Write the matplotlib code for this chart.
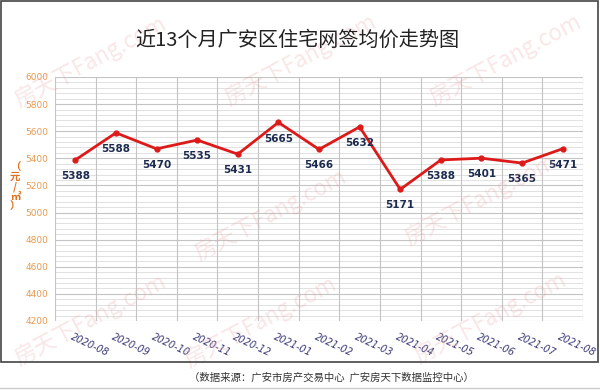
import matplotlib
matplotlib.use("Agg")
import matplotlib.pyplot as plt
from matplotlib.patches import Rectangle
from matplotlib.lines import Line2D

plt.rcParams['font.family'] = ['Noto Sans CJK SC', 'DejaVu Sans']

months = ["2020-08", "2020-09", "2020-10", "2020-11", "2020-12", "2021-01", "2021-02",
          "2021-03", "2021-04", "2021-05", "2021-06", "2021-07", "2021-08"]
prices = [5388, 5588, 5470, 5535, 5431, 5665, 5466, 5632, 5171, 5388, 5401, 5365, 5471]
yticks = [4200, 4400, 4600, 4800, 5000, 5200, 5400, 5600, 5800, 6000]
title = "近13个月广安区住宅网签均价走势图"
source = "（数据来源：广安市房产交易中心  广安房天下数据监控中心）"
ylabel = "（\n元\n/\n㎡\n）"
watermark = "房天下Fang.com"

W, H = 600, 390
fig = plt.figure(figsize=(W / 100, H / 100), dpi=100)
fig.patch.set_facecolor("white")

def fx(px):
    return px / W

def fy(py):
    return 1 - py / H

# faint watermarks
for (x, y) in [(90, 62), (300, 60), (505, 60), (270, 215), (480, 200),
               (90, 320), (260, 322), (490, 318)]:
    fig.text(fx(x), fy(y), watermark, fontsize=16, color="#e8a0a0", alpha=0.25,
             rotation=28, ha="center", va="center", zorder=0)

ax = fig.add_axes([fx(55), fy(321), fx(583) - fx(55), fy(77) - fy(321)])
ax.set_facecolor("none")
n = len(months)
xs = list(range(n))
ax.set_xlim(-0.5, n - 0.5)
ax.set_ylim(4200, 6000)

# grid
for v in range(4200, 6001, 40):
    major = (v - 4200) % 200 == 0
    ax.axhline(v, color="#c4c4c4" if major else "#dcdcdc", lw=0.8 if major else 0.6, zorder=1)
for i in range(n + 1):
    ax.axvline(i - 0.5, color="#c4c4c4", lw=0.8, zorder=1)

ax.plot(xs, prices, color="#dd1a1a", lw=2, marker="o", ms=3.5, zorder=3)
for x, p in zip(xs, prices):
    ax.annotate(str(p), (x, p), xytext=(0, -8), textcoords="offset points",
                ha="center", va="top", fontsize=7.5, fontweight="bold",
                color="#1c2b4f", family="DejaVu Sans", zorder=4)

ax.set_yticks(yticks)
ax.set_yticklabels([str(t) for t in yticks], fontsize=6.5, color="#e89a50", family="DejaVu Sans")
ax.tick_params(axis="y", length=0, pad=5)
ax.set_xticks(xs)
ax.set_xticklabels([])
ax.tick_params(axis="x", length=0)
for x, m in zip(xs, months):
    ax.text(x - 0.05, 4200 - 80, m, rotation=-25, rotation_mode="anchor",
            ha="left", va="top", fontsize=7, color="#3c3c78", family="DejaVu Sans",
            style="italic", clip_on=False)
for s in ax.spines.values():
    s.set_visible(False)

# stacked y label
fig.text(fx(15), fy(187), ylabel, fontsize=7.5, color="#e07020",
         ha="center", va="center", fontweight="bold", linespacing=0.95)

fig.text(fx(297), fy(40), title, fontsize=14.5, color="#222222", ha="center", va="center")
fig.text(fx(331), fy(378), source, fontsize=7.5, color="#333333", ha="center", va="center")

# frame
fig.add_artist(Rectangle((fx(1), fy(362)), fx(597), fy(1) - fy(362), transform=fig.transFigure,
                         fill=False, ec="#444444", lw=1.2))
fig.add_artist(Line2D([0, 1], [fy(388), fy(388)], transform=fig.transFigure, color="#cccccc", lw=1))

fig.savefig("out.png", dpi=100)
